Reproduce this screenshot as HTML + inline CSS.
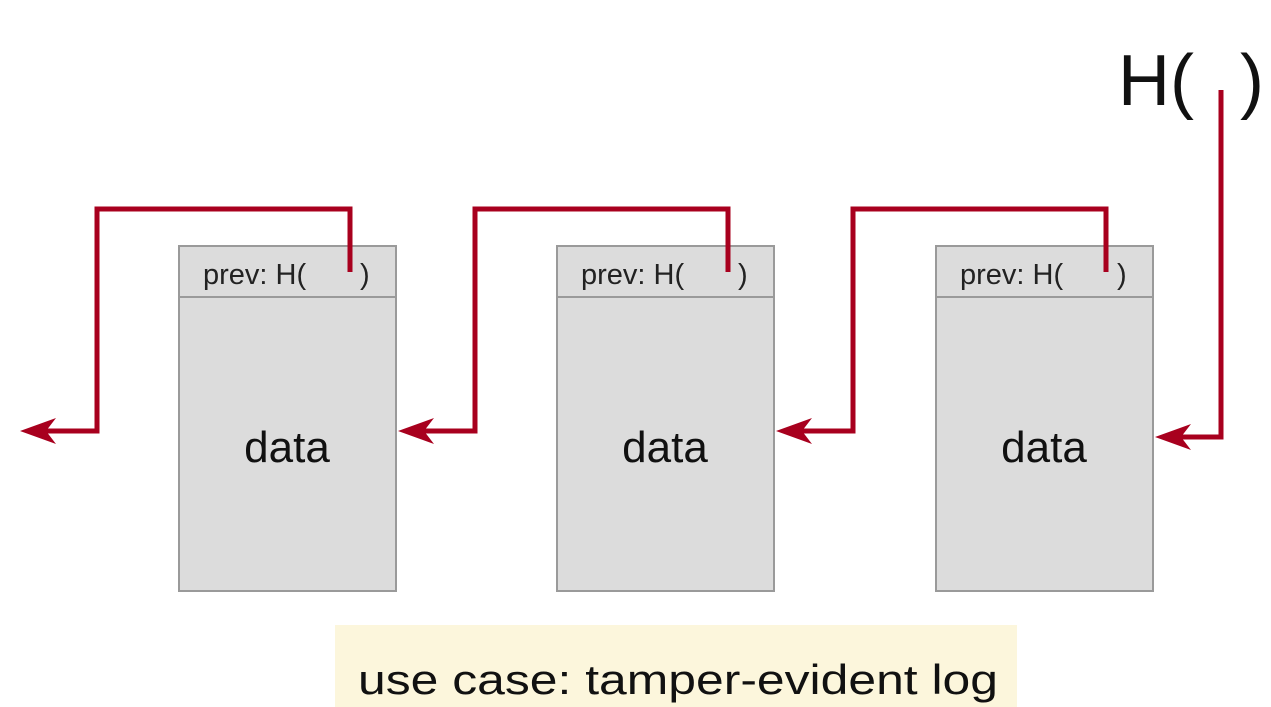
<!DOCTYPE html>
<html><head><meta charset="utf-8">
<style>html,body{margin:0;padding:0;background:#fff;}svg{display:block;}</style>
</head><body>
<svg width="1271" height="707" viewBox="0 0 1271 707" xmlns="http://www.w3.org/2000/svg" font-family="Liberation Sans, DejaVu Sans, sans-serif">
<g stroke="#9a9a9a" stroke-width="2" fill="#dcdcdc">
<rect x="179" y="246" width="217" height="345"/>
<line x1="179" y1="297" x2="396" y2="297"/>
<rect x="557" y="246" width="217" height="345"/>
<line x1="557" y1="297" x2="774" y2="297"/>
<rect x="936" y="246" width="217" height="345"/>
<line x1="936" y1="297" x2="1153" y2="297"/>
</g>
<g fill="#222" font-size="29">
<text x="203" y="284">prev: H(</text><text x="360" y="284">)</text>
<text x="581" y="284">prev: H(</text><text x="738" y="284">)</text>
<text x="960" y="284">prev: H(</text><text x="1117" y="284">)</text>
</g>
<g fill="#111" font-size="44">
<text x="287" y="462" text-anchor="middle">data</text>
<text x="665" y="462" text-anchor="middle">data</text>
<text x="1044" y="462" text-anchor="middle">data</text>
</g>
<g fill="#111" font-size="72">
<text x="1118" y="105">H(</text>
<text x="1240" y="105">)</text>
</g>
<g stroke="#a8001e" stroke-width="5" fill="none" stroke-linejoin="miter">
<polyline points="350,272 350,209 97,209 97,431 44,431"/>
<polyline points="728,272 728,209 475,209 475,431 422,431"/>
<polyline points="1106,272 1106,209 853,209 853,431 800,431"/>
<polyline points="1221,90 1221,437 1179,437"/>
</g>
<g fill="#a8001e">
<path d="M20,431 L56,418 L46,431 L56,444 Z"/>
<path d="M398,431 L434,418 L424,431 L434,444 Z"/>
<path d="M776,431 L812,418 L802,431 L812,444 Z"/>
<path d="M1155,437 L1191,424 L1181,437 L1191,450 Z"/>
</g>
<rect x="335" y="625" width="682" height="82" fill="#fcf6dc"/>
<text x="358" y="694" font-size="42" fill="#111" textLength="640" lengthAdjust="spacingAndGlyphs">use case: tamper-evident log</text>
</svg>
</body></html>
